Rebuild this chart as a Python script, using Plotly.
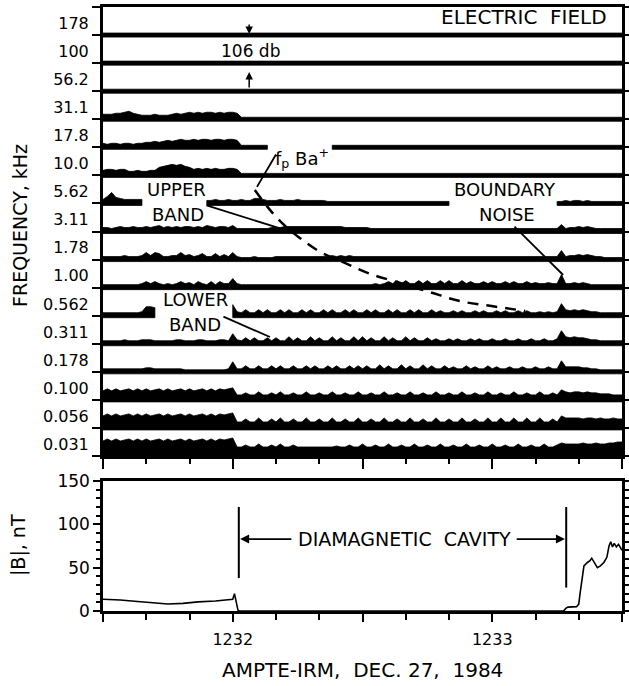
import math
import plotly.graph_objects as go

# ---------------------------------------------------------------- data
# sample times: seconds after 12:00 UT, one sample per second, 12:31:30 - 12:33:30
times = list(range(1890, 2011))

channel_labels = ["0.031", "0.056", "0.100", "0.178", "0.311", "0.562", "1.00", "1.78",
                  "3.11", "5.62", "10.0", "17.8", "31.1", "56.2", "100", "178"]

# relative wave intensity above each channel's zero line (arbitrary units),
# one value per second; None = no trace plotted
amp_178 = [0,0,0,0,0,0,0,0,0,0, 0,0,0,0,0,0,0,0,0,0, 0,0,0,0,0,0,0,0,0,0, 0,0,0,0,0,0,0,0,0,0,
           0,0,0,0,0,0,0,0,0,0, 0,0,0,0,0,0,0,0,0,0, 0,0,0,0,0,0,0,0,0,0, 0,0,0,0,0,0,0,0,0,0,
           0,0,0,0,0,0,0,0,0,0, 0,0,0,0,0,0,0,0,0,0, 0,0,0,0,0,0,0,0,0,0, 0,0,0,0,0,0,0,0,0,0, 0]
amp_100 = [0,0,0,0,0,0,0,0,0,0, 0,0,0,0,0,0,0,0,0,0, 0,0,0,0,0,0,0,0,0,0, 0,0,0,0,0,0,0,0,0,0,
           0,0,0,0,0,0,0,0,0,0, 0,0,0,0,0,0,0,0,0,0, 0,0,0,0,0,0,0,0,0,0, 0,0,0,0,0,0,0,0,0,0,
           0,0,0,0,0,0,0,0,0,0, 0,0,0,0,0,0,0,0,0,0, 0,0,0,0,0,0,0,0,0,0, 0,0,0,0,0,0,0,0,0,0, 0]
amp_56_2 = [0,0,0,0,0,0,0,0,0,0, 0,0,0,0,0,0,0,0,0,0, 0,0,0,0,0,0,0,0,0,0, 0,0,0,0,0,0,0,0,0,0,
            0,0,0,0,0,0,0,0,0,0, 0,0,0,0,0,0,0,0,0,0, 0,0,0,0,0,0,0,0,0,0, 0,0,0,0,0,0,0,0,0,0,
            0,0,0,0,0,0,0,0,0,0, 0,0,0,0,0,0,0,0,0,0, 0,0,0,0,0,0,0,0,0,0, 0,0,0,0,0,0,0,0,0,0, 0]
amp_31_1 = [3,3,3,4,4,5,6,4,3,2, 2,2,3,2,2,2,3,4,3,4, 5,4,5,4,5,5,4,5,4,5, 5,4,0,0,0,0,0,0,0,0,
            0,0,0,0,0,0,0,0,0,0, 0,0,0,0,0,0,0,0,0,0, 0,0,0,0,0,0,0,0,0,0, 0,0,0,0,0,0,0,0,0,0,
            0,0,0,0,0,0,0,0,0,0, 0,0,0,0,0,0,0,0,0,0, 0,0,0,0,0,0,0,0,0,0, 0,0,0,0,0,0,0,0,0,0, 0]
amp_17_8 = [2,1,2,2,1,2,2,1,2,2, 3,3,4,3,4,5,4,5,6,5, 5,6,5,6,6,5,6,6,5,6, 6,5,0,0,0,0,0,0,0,None,
            None,None,None,None,None,None,None,None,None,None, None,None,None,0,0,0,0,0,0,0,
            0,0,0,0,0,0,0,0,0,0, 0,0,0,0,0,0,0,0,0,0, 0,0,0,0,0,0,0,0,0,0, 0,0,0,0,0,0,0,0,0,0,
            0,0,0,0,0,0,0,0,0,0, 0,0,0,0,0,0,0,0,0,0, 0]
amp_10_0 = [3,4,4,3,4,4,2,2,3,2, 2,3,3,6,7,8,9,8,9,7, 6,4,5,4,5,4,5,4,4,5, 5,4,0,0,0,0,0,0,0,0,
            0,0,0,0,0,0,0,0,0,0, 0,0,0,0,0,0,0,0,0,0, 0,0,0,0,0,0,0,0,0,0, 0,0,0,0,0,0,0,0,0,0,
            0,0,0,0,0,0,0,0,0,0, 0,0,0,0,0,0,0,0,0,0, 0,0,0,0,0,0,0,0,0,0, 0,0,0,0,0,0,0,0,0,0, 0]
amp_5_62 = [2,5,9,4,3,2,2,2,2,2, None,None,None,None,None,None,None,None,None,None,
            None,None,None,None,1,1,2,1,1,2, 1,1,2,1,1,3,3,2,1,1, 1,2,1,1,1,2,1,1,1,1,
            1,1,0,0,0,0,0,0,0,0, 0,0,0,0,0,0,0,0,0,0, 0,0,0,0,0,0,0,0,0,0,
            0,None,None,None,None,None,None,None,None,None, None,None,None,None,None,None,None,None,None,None,
            None,None,None,None,None,0,0,1,0,1, 1,0,1,0,0,0,0,0,0,0, 0]
amp_3_11 = [2,2,1,2,3,2,2,3,2,2, 3,2,3,4,2,3,2,3,2,3, 3,2,3,2,4,3,2,3,3,2, 4,1,1,1,1,1,1,1,1,2,
            2,2,3,3,3,3,3,3,3,3, 3,3,3,3,3,3,2,2,2,2, 2,2,1,1,1,1,1,1,1,1, 1,1,1,1,1,1,1,1,1,1,
            1,1,1,1,1,1,1,1,1,1, 1,1,1,1,1,1,1,1,1,1, 1,1,1,1,1,1,5,1,2,2, 3,2,3,2,1,1,1,1,1,1, 1]
amp_1_78 = [1,1,1,1,1,2,1,1,1,2, 5,2,5,4,1,1,2,2,5,2, 3,1,2,4,1,1,4,1,3,1, 5,1,0,0,0,1,0,0,0,0,
            1,1,1,1,1,1,1,1,1,1, 1,1,1,2,1,2,1,2,1,1, 1,1,1,1,1,1,1,1,1,1, 1,1,1,1,1,1,1,1,1,1,
            1,1,1,1,1,1,1,1,1,1, 1,1,1,1,1,1,1,1,1,1, 1,1,1,1,1,1,7,1,2,2, 3,2,3,2,1,1,0,0,0,0, 0]
amp_1_00 = [1,1,1,1,1,1,1,1,1,2, 4,2,4,2,1,2,1,2,4,2, 3,1,4,2,1,4,1,4,2,2, 7,2,1,1,1,1,1,1,1,1,
            1,1,1,1,1,1,1,1,1,1, 1,1,1,1,1,1,1,1,1,1, 1,1,1,2,1,2,4,2,5,2, 5,2,2,5,2,5,2,2,5,2,
            5,2,2,5,2,4,2,2,4,2, 4,2,2,4,2,4,2,2,4,2, 3,2,2,3,2,2,11,2,2,3, 2,3,2,1,1,1,1,1,1,1, 1]
amp_0_562 = [1,1,1,1,1,1,1,1,1,2, 7,7,6,None,None,None,None,None,None,None,
             None,None,None,None,None,None,None,None,None,None, 9,2,1,4,1,1,4,1,4,1,
             1,4,1,4,1,1,4,1,4,1, 1,4,1,4,1,1,4,1,4,1, 1,4,1,4,1,1,4,1,4,1, 1,4,1,4,1,1,4,1,3,1,
             1,3,1,3,1,1,3,1,3,1, 1,3,1,3,1,1,3,1,3,1, 1,2,1,2,1,2,10,4,3,4, 3,4,3,2,2,1,1,1,1,1, 1]
amp_0_311 = [1,1,1,1,1,2,1,1,1,2, 2,2,1,1,1,1,1,2,2,1, 1,1,2,2,1,1,1,2,2,1, 8,2,1,4,1,4,1,1,4,1,
             4,1,1,5,1,4,1,1,5,1, 4,1,1,5,1,4,1,1,5,1, 5,1,4,1,1,5,1,4,1,1, 5,1,4,1,1,4,1,3,1,1,
             3,1,3,1,1,3,1,3,1,1, 3,1,1,3,1,1,3,1,1,3, 1,1,3,1,1,3,11,5,4,5, 4,4,3,2,2,1,1,1,1,1, 1]
amp_0_178 = [1,1,1,1,1,1,1,1,1,1, 2,2,1,1,1,1,1,1,1,0, 0,0,0,0,0,0,0,0,0,1, 8,1,1,4,1,1,4,1,1,4,
             1,4,1,1,4,1,1,4,1,4, 1,1,4,1,4,1,1,4,1,4, 1,4,1,1,5,1,4,1,1,5, 1,4,1,1,5,1,4,1,1,4,
             1,3,1,1,4,1,3,1,1,4, 1,3,1,1,3,1,1,3,1,1, 3,1,1,3,1,1,9,3,3,3, 3,2,2,1,1,0,0,0,0,0, 0]
amp_0_100 = [7,9,7,9,7,8,9,7,9,7, 9,7,8,9,7,9,7,8,9,7, 9,7,8,9,7,9,7,9,8,9, 10,3,3,5,3,3,6,3,3,5,
             3,6,3,3,5,3,3,6,3,3, 5,3,3,6,3,3,5,3,3,6, 3,3,5,3,3,6,3,3,5,3, 3,6,3,3,5,3,3,6,3,3,
             5,3,3,6,3,3,5,3,3,6, 3,3,5,3,3,6,3,3,5,3, 3,6,3,3,5,3,8,6,5,6, 6,5,6,5,5,4,4,4,3,3, 3]
amp_0_056 = [10,12,10,12,10,11,12,10,12,10, 12,10,11,12,10,12,10,11,12,10, 12,10,11,12,10,12,10,12,11,12,
             13,4,4,7,4,4,8,4,4,7, 4,8,4,4,7,4,4,8,4,4, 7,4,4,8,4,4,7,4,4,8, 4,4,7,4,4,8,4,4,7,4,
             4,8,4,4,7,4,4,8,4,4, 7,4,4,8,4,4,7,4,4,8, 4,4,8,4,4,8,4,4,8,4, 4,8,4,4,7,4,10,8,8,8,
             8,7,8,8,7,8,7,7,8,7, 7]
amp_0_031 = [13,15,13,15,13,14,15,13,15,13, 15,13,14,15,13,15,13,14,15,13, 15,13,14,15,13,15,13,15,14,15,
             16,7,7,9,7,7,10,7,7,9, 7,10,7,7,9,7,7,7,7,7, 7,7,7,7,8,7,7,9,7,7, 10,7,7,9,7,7,10,7,7,9,
             7,7,10,7,7,9,7,7,10,7, 7,9,7,7,10,7,7,9,7,7, 10,7,7,9,7,7,10,7,7,9, 7,7,10,7,7,9,11,10,10,10,
             10,11,10,10,11,10,10,11,11,12, 12]

channels = [amp_0_031, amp_0_056, amp_0_100, amp_0_178, amp_0_311, amp_0_562, amp_1_00, amp_1_78,
            amp_3_11, amp_5_62, amp_10_0, amp_17_8, amp_31_1, amp_56_2, amp_100, amp_178]

# Ba+ ion plasma frequency estimate (dashed curve)
fp_time = [1925.1, 1928.6, 1932.1, 1935.5, 1940.2, 1945.9, 1951.7, 1958.7, 1965.6, 1972.5, 1979.5, 1987.6]
fp_khz = [7.41, 4.93, 3.55, 2.77, 2.08, 1.66, 1.33, 1.10, 0.912, 0.759, 0.688, 0.620]

# magnetic field magnitude |B| (nT)
b_time = [1890, 1894, 1898, 1902, 1905, 1908.5, 1912, 1916, 1919.5, 1920, 1920.4, 1920.8, 1921.2, 1921.5,
          1996.5, 1997, 1997.5, 1999.5, 2000, 2000.3, 2000.8, 2001.2, 2002, 2002.6, 2003, 2003.5,
          2004.3, 2005, 2005.8, 2006.5, 2007, 2007.4, 2007.8, 2008.2, 2008.7, 2009.2, 2009.6, 2010]
b_nt = [13.5, 12.7, 11, 9, 8, 8.8, 10.5, 11.5, 13, 13.5, 20, 8, 1, 0,
        0, 3, 4.5, 5, 8, 20, 40, 52, 56, 58, 61, 57,
        50, 52, 56, 62, 75, 80, 74, 78, 74, 77, 73, 70]

# diamagnetic cavity boundaries (s after 12:00 UT)
cavity_start = 1921.4
cavity_end = 1997.1

time_ticks = [1890, 1920, 1950, 1980, 2010]
time_labels = ["", "1232", "", "1233", ""]

# ---------------------------------------------------------------- drawing
W = 2.0         # half thickness of each channel's zero line (amplitude units)
S = 1 / 28.0    # channel heights per amplitude unit
FONT = "DejaVu Sans"


def strip_polygon(k, amps):
    xs, ys = [], []
    run = []

    def flush(r):
        if not r:
            return
        top_x = [times[i] for i in r]
        top_y = [k + (W + amps[i]) * S for i in r]
        xs.extend(top_x + top_x[::-1] + [top_x[0], None])
        ys.extend(top_y + [k - W * S] * len(r) + [top_y[0], None])

    for i, a in enumerate(amps):
        if a is None:
            flush(run)
            run = []
        else:
            run.append(i)
    flush(run)
    return xs, ys


fig = go.Figure()

for k, amps in enumerate(channels):
    xs, ys = strip_polygon(k, amps)
    fig.add_trace(go.Scatter(x=xs, y=ys, mode="lines", fill="toself", fillcolor="black",
                             line=dict(color="black", width=0.8), hoverinfo="skip",
                             xaxis="x", yaxis="y"))

fp_chan = [2 + 4 * math.log10(f / 0.1) for f in fp_khz]
fig.add_trace(go.Scatter(x=fp_time, y=fp_chan, mode="lines",
                         line=dict(color="black", width=2.5, dash="11px,8px", shape="spline"),
                         hoverinfo="skip", xaxis="x", yaxis="y"))

fig.add_trace(go.Scatter(x=b_time, y=b_nt, mode="lines",
                         line=dict(color="black", width=1.6), hoverinfo="skip",
                         xaxis="x2", yaxis="y2"))

axis_common = dict(showline=True, linecolor="black", showgrid=False, zeroline=False,
                   automargin=False)

fig.update_layout(
    width=629, height=686,
    margin=dict(l=103, r=7, t=7, b=75, autoexpand=False),
    paper_bgcolor="white", plot_bgcolor="white",
    font=dict(family=FONT, size=16, color="black"),
    showlegend=False,
    xaxis=dict(domain=[0, 1], range=[1890, 2010], anchor="y", linewidth=3, mirror=True,
               ticks="outside", tickvals=time_ticks, ticklen=10, tickwidth=2, tickcolor="black",
               showticklabels=False,
               minor=dict(dtick=10, tick0=1890, ticks="outside", ticklen=5, tickwidth=2,
                          tickcolor="black"),
               **axis_common),
    yaxis=dict(domain=[0.2566, 1], range=[0, 16], anchor="x", linewidth=3, mirror="allticks",
               ticks="outside", tickvals=[k + 0.42 for k in range(16)], ticktext=channel_labels,
               ticklen=8, tickcolor="rgba(0,0,0,0)", tickfont=dict(size=16),
               minor=dict(dtick=1, tick0=0, ticks="outside", ticklen=8, tickwidth=2,
                          tickcolor="black"),
               **axis_common),
    xaxis2=dict(domain=[0, 1], range=[1890, 2010], anchor="y2", linewidth=3, mirror=True,
                ticks="outside", tickvals=time_ticks, ticktext=time_labels, ticklen=8,
                tickwidth=2, tickcolor="black", tickfont=dict(size=16), ticklabelstandoff=4,
                minor=dict(dtick=10, tick0=1890, ticks="outside", ticklen=6, tickwidth=2,
                           tickcolor="black"),
                **axis_common),
    yaxis2=dict(domain=[0, 0.2152], range=[0, 150], anchor="x2", linewidth=2.5,
                mirror="allticks", ticks="outside", tickvals=[0, 50, 100, 150], ticklen=7,
                tickwidth=2, tickcolor="black", tickfont=dict(size=17),
                minor=dict(dtick=10, tick0=0, ticks="outside", ticklen=4, tickwidth=1.5,
                           tickcolor="black"),
                **axis_common),
)

# --- text labels in the spectrogram panel
labels = [
    ("ELECTRIC  FIELD", 1987.3, 15.65, 20),
    ("106 db", 1924.0, 14.43, 17),
    ("f<sub>p</sub> Ba<sup>+</sup>", 1936.0, 10.62, 18),
    ("UPPER", 1907.1, 9.48, 18),
    ("BAND", 1907.3, 8.59, 18),
    ("BOUNDARY", 1982.9, 9.48, 18),
    ("NOISE", 1983.4, 8.59, 18),
    ("LOWER", 1911.3, 5.56, 18),
    ("BAND", 1911.3, 4.67, 18),
]
for text, x, y, size in labels:
    fig.add_annotation(text=text, x=x, y=y, xref="x", yref="y", showarrow=False,
                       xanchor="center", yanchor="middle",
                       font=dict(family=FONT, size=size, color="black"))

# --- pointer lines (head x, head y, tail x, tail y)
pointers = [
    (1925.6, 9.59, 1930.2, 10.80),
    (1932.8, 8.02, 1913.6, 8.95),
    (1996.4, 6.45, 1984.8, 8.23),
    (1928.6, 4.24, 1917.5, 4.99),
]
for hx, hy, tx, ty in pointers:
    fig.add_annotation(x=hx, y=hy, ax=tx, ay=ty, xref="x", yref="y", axref="x", ayref="y",
                       text="", showarrow=True, arrowhead=0, arrowwidth=1.8, arrowcolor="black")

# --- 106 db scale arrows
for hy, ty in [(15.04, 15.43), (13.68, 13.08)]:
    fig.add_annotation(x=1923.8, y=hy, ax=1923.8, ay=ty, xref="x", yref="y", axref="x",
                       ayref="y", text="", showarrow=True, arrowhead=2, arrowsize=1,
                       arrowwidth=1.5, arrowcolor="black")

# --- diamagnetic cavity markers (lower panel)
fig.add_shape(type="line", x0=cavity_start, x1=cavity_start, y0=38, y1=120, xref="x2", yref="y2",
              line=dict(color="black", width=2))
fig.add_shape(type="line", x0=cavity_end, x1=cavity_end, y0=27, y1=120, xref="x2", yref="y2",
              line=dict(color="black", width=2))
fig.add_annotation(text="DIAMAGNETIC  CAVITY", x=1959.7, y=83, xref="x2", yref="y2",
                   showarrow=False, xanchor="center", yanchor="middle",
                   font=dict(family=FONT, size=19, color="black"))
fig.add_annotation(x=cavity_start + 0.3, y=83, ax=1933.9, ay=83, xref="x2", yref="y2",
                   axref="x2", ayref="y2", text="", showarrow=True, arrowhead=2,
                   arrowwidth=1.8, arrowcolor="black")
fig.add_annotation(x=cavity_end - 0.3, y=83, ax=1985.3, ay=83, xref="x2", yref="y2",
                   axref="x2", ayref="y2", text="", showarrow=True, arrowhead=2,
                   arrowwidth=1.8, arrowcolor="black")

# --- axis titles
fig.add_annotation(text="FREQUENCY, kHz", x=-0.160, y=0.639, xref="paper", yref="paper",
                   textangle=-90, showarrow=False, xanchor="center", yanchor="middle",
                   font=dict(family=FONT, size=19, color="black"))
fig.add_annotation(text="|B|, nT", x=-0.164, y=0.109, xref="paper", yref="paper",
                   textangle=-90, showarrow=False, xanchor="center", yanchor="middle",
                   font=dict(family=FONT, size=19, color="black"))
fig.add_annotation(text="AMPTE-IRM,  DEC. 27,  1984", x=0.5, y=-0.0977, xref="paper",
                   yref="paper", showarrow=False, xanchor="center", yanchor="middle",
                   font=dict(family=FONT, size=20, color="black"))

fig.write_html("out.html")
